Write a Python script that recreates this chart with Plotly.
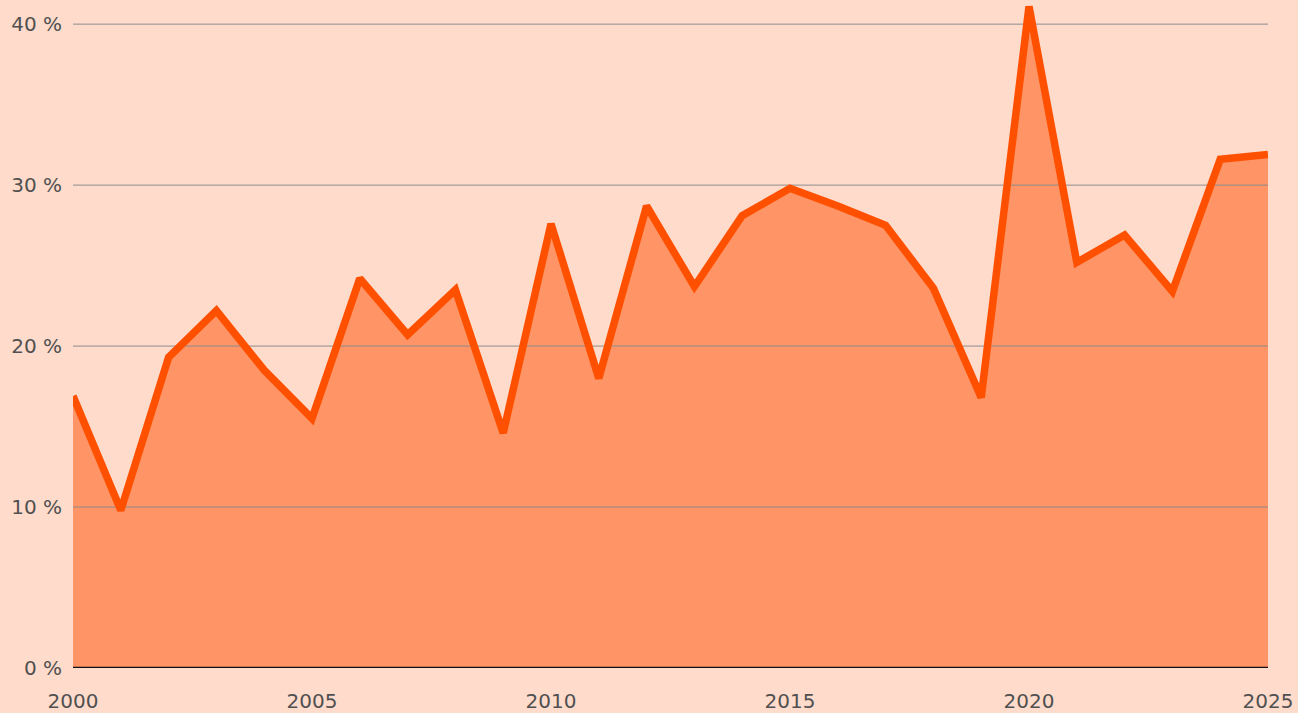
import plotly.graph_objects as go

years = list(range(2000, 2026))
values = [16.9, 9.8, 19.3, 22.2, 18.5, 15.5, 24.2, 20.7, 23.5, 14.6,
          27.6, 18.0, 28.7, 23.7, 28.1, 29.8, 28.7, 27.5, 23.6, 16.8,
          41.1, 25.2, 26.9, 23.4, 31.6, 31.9]
y_ticks = [0, 10, 20, 30, 40]
y_labels = ["0 %", "10 %", "20 %", "30 %", "40 %"]
x_ticks = [2000, 2005, 2010, 2015, 2020, 2025]

BG = "#FFDBCC"
FILL = "#FF9466"
LINE = "#FF5000"
GRID = "#8C8C8C"
TXT = "#505050"

fig = go.Figure()
fig.add_trace(go.Scatter(x=years, y=values, mode="lines", fill="tozeroy",
                         fillcolor=FILL, line=dict(width=0), hoverinfo="skip",
                         showlegend=False))
for t in y_ticks[1:]:
    fig.add_trace(go.Scatter(x=[years[0], years[-1]], y=[t, t], mode="lines",
                             line=dict(color=GRID, width=1), hoverinfo="skip",
                             showlegend=False))
fig.add_trace(go.Scatter(x=years, y=values, mode="lines",
                         line=dict(color=LINE, width=7.5),
                         cliponaxis=False, showlegend=False))
fig.add_trace(go.Scatter(x=[years[0], years[-1]], y=[0, 0], mode="lines",
                         line=dict(color="#111111", width=2.5),
                         cliponaxis=False, hoverinfo="skip", showlegend=False))

fig.update_layout(
    width=1298, height=713,
    paper_bgcolor=BG, plot_bgcolor=BG,
    margin=dict(l=73, r=30, t=0, b=45, pad=0, autoexpand=False),
    font=dict(family="DejaVu Sans, sans-serif", size=20, color=TXT),
    xaxis=dict(range=[2000, 2025], tickvals=x_ticks, showgrid=False,
               zeroline=False, showline=False, ticks="", ticklabelstandoff=19,
               automargin=False),
    yaxis=dict(range=[0, 41.5], tickvals=y_ticks, ticktext=y_labels,
               showgrid=False, zeroline=False, showline=False, ticks="",
               ticklabelstandoff=10, automargin=False),
)

fig.write_html("out.html", config={"displayModeBar": False},
               post_script="document.body.style.margin='0';document.body.style.overflow='hidden';")
